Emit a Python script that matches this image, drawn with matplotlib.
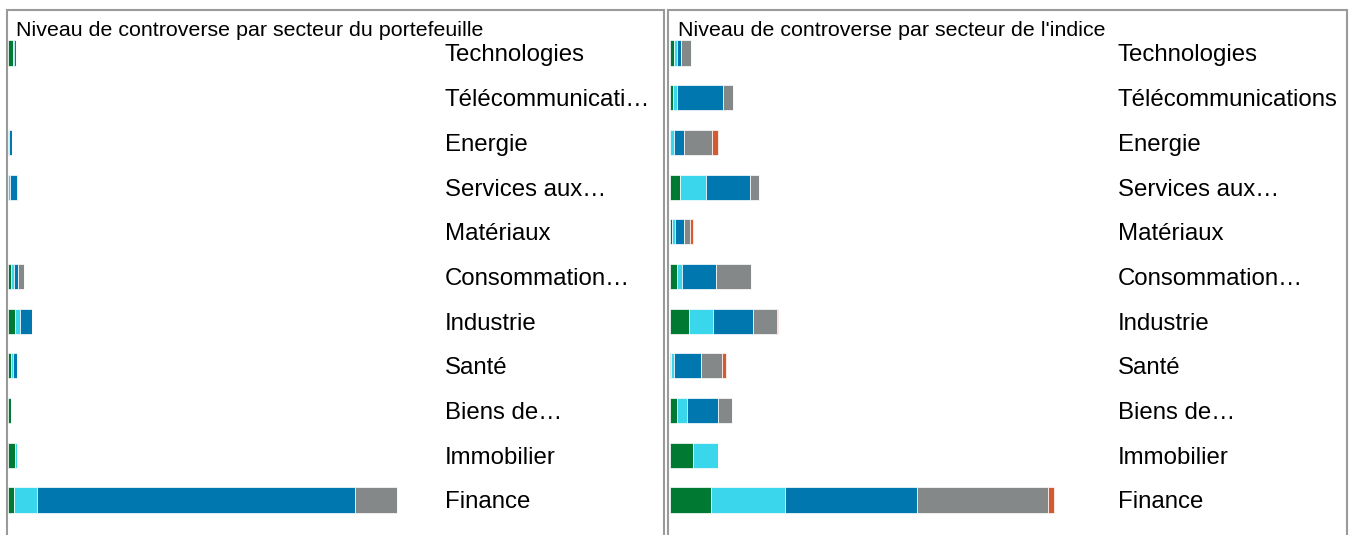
import numpy as np
import matplotlib.pyplot as plt
from matplotlib.patches import Rectangle

plt.rcParams['font.family'] = ['Liberation Sans', 'DejaVu Sans']

W, H = 1351, 535

sectors_pf = ["Technologies", "Télécommunicati…", "Energie", "Services aux…", "Matériaux",
              "Consommation…", "Industrie", "Santé", "Biens de…", "Immobilier", "Finance"]
sectors_idx = ["Technologies", "Télécommunications", "Energie", "Services aux…", "Matériaux",
               "Consommation…", "Industrie", "Santé", "Biens de…", "Immobilier", "Finance"]

levels = ["Niveau 1", "Niveau 2", "Niveau 3", "Niveau 4", "Niveau 5"]
colors = ["#007A33", "#3AD6EC", "#0077AE", "#858889", "#D35B33"]

# portefeuille, one list per controversy level (same order as sectors)
pf_n1 = [5, 0, 0, 0, 0, 3, 7, 3, 3, 7, 6]
pf_n2 = [1.5, 0, 0.8, 1.5, 0, 3, 5, 1.5, 0, 2, 23]
pf_n3 = [1.2, 0, 3.5, 7, 0, 4, 12, 4, 0, 0, 318]
pf_n4 = [0, 0, 0, 1.5, 0, 6, 0, 0, 0, 0, 42]
pf_n5 = [0, 0, 0, 0, 0, 0, 0, 0, 0, 0, 0]

# indice
idx_n1 = [4, 3, 0, 10, 2, 7, 19, 1.5, 7, 23, 41]
idx_n2 = [3, 4.5, 4, 26, 3, 5, 24, 3, 10, 25, 74]
idx_n3 = [4, 46, 10, 44, 9, 34.5, 40, 27, 31, 0, 132]
idx_n4 = [10, 9.5, 28.5, 9, 6, 35, 24, 21, 14.5, 0, 131]
idx_n5 = [0, 0, 5.5, 0, 3, 0, 1.7, 3.5, 0, 0, 6.5]

fig = plt.figure(figsize=(W / 100, H / 100), dpi=100)

# panel frames
for x0, x1 in [(7, 663.5), (668, 1346.5)]:
    fig.patches.append(Rectangle((x0 / W, -0.05), (x1 - x0) / W, (H - 9.5) / H + 0.05,
                                 transform=fig.transFigure, fill=False,
                                 edgecolor="#9a9a9a", linewidth=1.5))

fig.text(16 / W, 1 - 36 / H, "Niveau de controverse par secteur du portefeuille",
         fontsize=15.4, va="baseline", ha="left")
fig.text(678 / W, 1 - 36 / H, "Niveau de controverse par secteur de l'indice",
         fontsize=15.4, va="baseline", ha="left")


def draw_panel(rect, xmax, labels, series):
    ax = fig.add_axes(rect)
    y = np.arange(len(labels))
    left = np.zeros(len(labels))
    for vals, c, name in zip(series, colors, levels):
        vals = np.array(vals, dtype=float)
        ax.barh(y, vals, left=left, height=0.56, color=c, edgecolor="white",
                linewidth=0.5, label=name)
        left += vals
    ax.set_xlim(0, xmax)
    ax.set_ylim(len(labels) - 0.5, -0.5)
    ax.set_yticks(y)
    ax.set_yticklabels(labels, fontsize=17.3)
    ax.yaxis.tick_right()
    ax.tick_params(axis="y", length=0, pad=3.6)
    ax.set_xticks([])
    for s in ax.spines.values():
        s.set_visible(False)
    return ax


row_h = 44.7
top = 53 - row_h / 2
ax_h = row_h * 11
bottom = H - (top + ax_h)

draw_panel([8 / W, bottom / H, 432 / W, ax_h / H], 432, sectors_pf,
           [pf_n1, pf_n2, pf_n3, pf_n4, pf_n5])
draw_panel([669.5 / W, bottom / H, 443.5 / W, ax_h / H], 443.5, sectors_idx,
           [idx_n1, idx_n2, idx_n3, idx_n4, idx_n5])

fig.savefig("out.png", dpi=100)
